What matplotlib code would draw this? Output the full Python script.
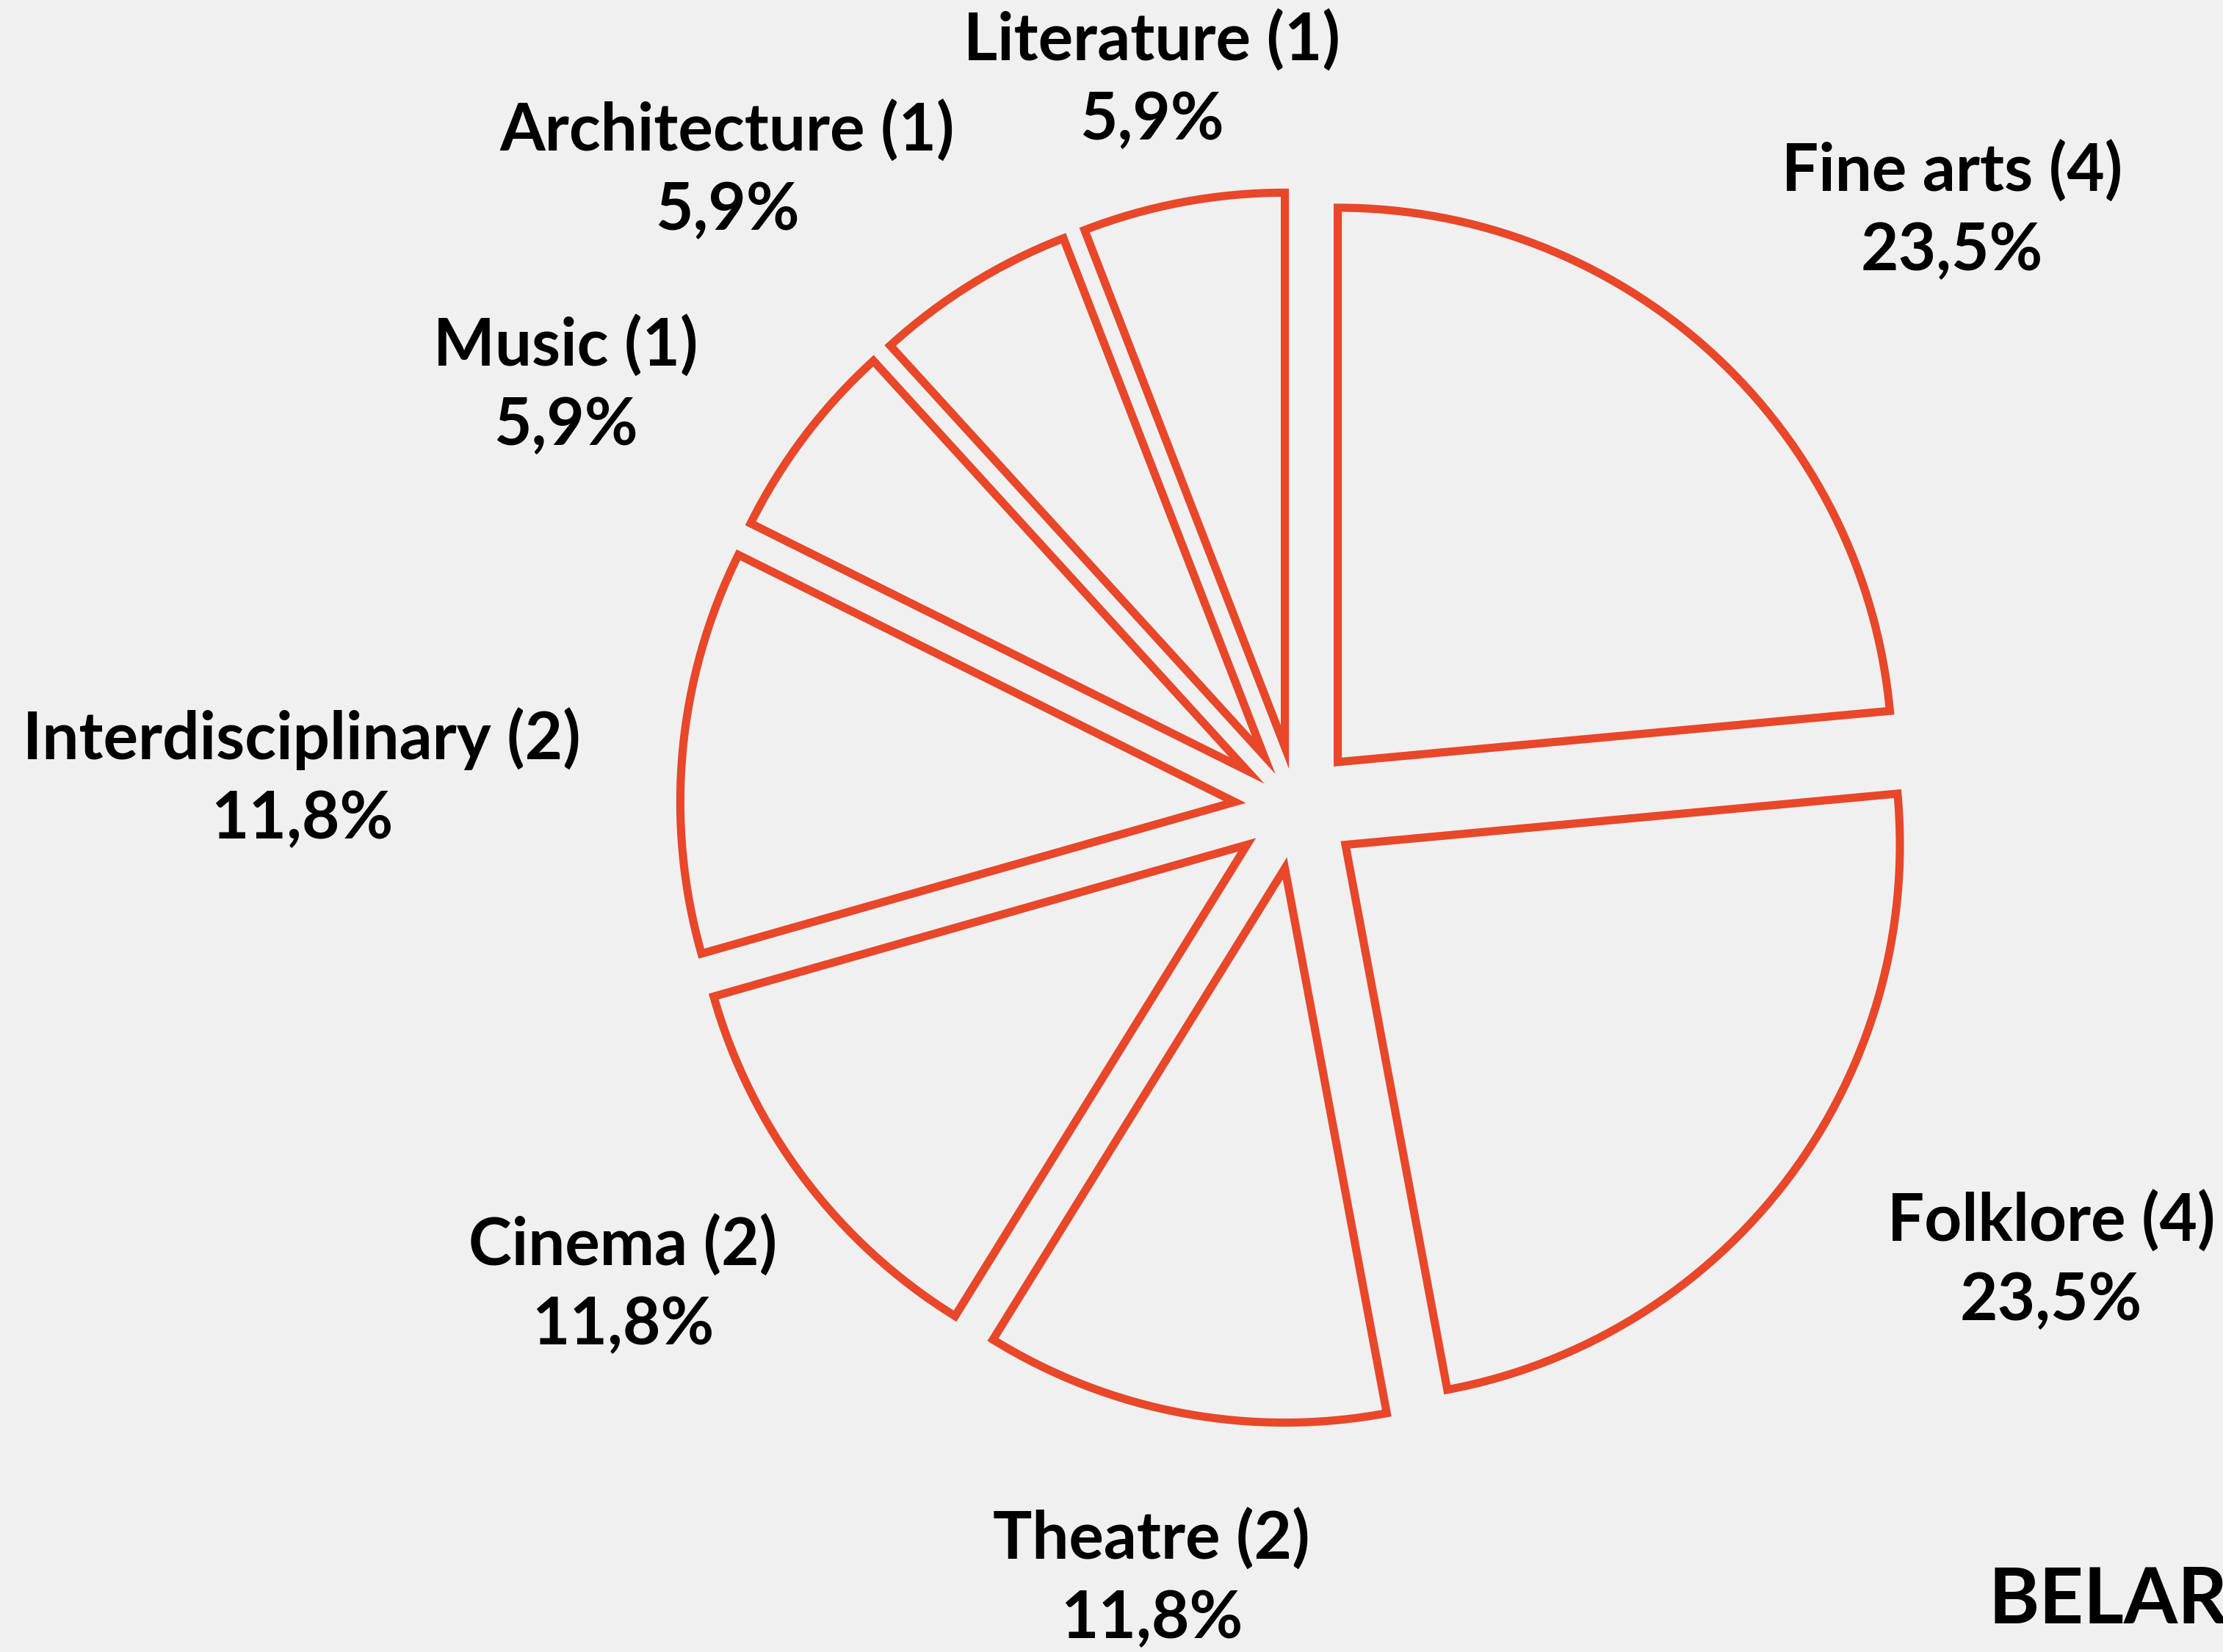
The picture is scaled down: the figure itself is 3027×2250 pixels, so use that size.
import matplotlib.pyplot as plt

# categories and counts (clockwise from 12 o'clock)
categories = ["Fine arts", "Folklore", "Theatre", "Cinema",
              "Interdisciplinary", "Music", "Architecture", "Literature"]
counts = [4, 4, 2, 2, 2, 1, 1, 1]

# label centres in pixel coords (x, y from bottom)
label_pos = [(2658, 1963), (2793, 533), (1568, 100), (848, 500),
             (411, 1190), (770, 1725), (990, 2018), (1568, 2141)]

red = "#E8472A"
bg = "#F0F0F0"
W, H = 3027, 2250

fig = plt.figure(figsize=(W / 100, H / 100), dpi=100, facecolor=bg)
ax = fig.add_axes([0, 0, 1, 1])
ax.set_facecolor(bg)

# axes in pixel units, so explode offset is in pixels too
ax.pie(counts, startangle=90, counterclock=False,
       center=(1765, H - 1100), radius=755,
       explode=[84] * len(counts),
       wedgeprops=dict(facecolor="none", edgecolor=red, linewidth=8,
                       joinstyle="miter"),
       frame=True)

total = sum(counts)
for name, n, (x, y) in zip(categories, counts, label_pos):
    pct = f"{100 * n / total:.1f}".replace(".", ",")
    ax.text(x, y, f"{name} ({n})\n{pct}%", ha="center", va="center",
            fontsize=64, fontweight="bold", family="Lato",
            linespacing=1.38, color="black")

ax.text(2708, H - 2181, "BELARUS", ha="left", va="center",
        fontsize=76, fontweight="bold", family="Lato", color="black")

ax.set_xlim(0, W)
ax.set_ylim(0, H)
ax.set_aspect("equal")
ax.axis("off")

fig.savefig("out.png", dpi=100, facecolor=bg)
